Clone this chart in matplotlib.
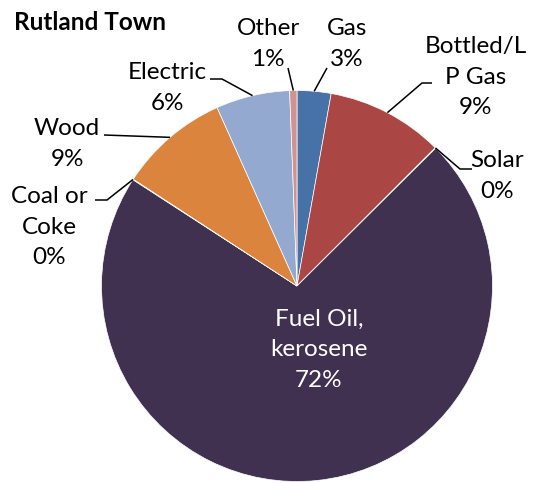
"""
Home heating fuel shares, Rutland Town — pie chart with leader-line labels.
"""

import numpy as np
import matplotlib.pyplot as plt

# ---------------------------------------------------------------------------
# Data
# ---------------------------------------------------------------------------
fuels = ["Gas", "Bottled/LP Gas", "Solar", "Fuel Oil, kerosene",
         "Coal or Coke", "Wood", "Electric", "Other"]
shares = [2.8, 9.7, 0.05, 71.6, 0.05, 9.1, 6.1, 0.6]
labels = ["Gas\n3%", "Bottled/L\nP Gas\n9%", "Solar\n0%",
          "Fuel Oil,\nkerosene\n72%", "Coal or\nCoke\n0%", "Wood\n9%",
          "Electric\n6%", "Other\n1%"]
colors = ["#4672A8", "#AA4643", "#89A54E", "#413151",
          "#3D96AE", "#DB843D", "#93A9CF", "#D19392"]

# ---------------------------------------------------------------------------
# Layout (pixel coordinates in the 540x483 canvas)
# ---------------------------------------------------------------------------
W, H = 540, 483
CX, CY, R = 297, 286, 195.5

# label centre, then leader path from label side (None = no leader)
label_pos = [(347, 44), (476, 77), (497, 176), (319, 350),
             (49, 227), (67, 144), (167, 88), (268, 44)]
leaders = [
    [(327, 68)],
    [(432, 83), (422, 83)],
    [(472, 169), (460, 169)],
    None,
    [(95, 200), (107, 200)],
    [(104, 135)],
    [(210, 79), (222, 79)],
    [(288, 68)],
]
text_colors = ["black"] * 8
text_colors[3] = "white"


def px(x, y):
    return (x - CX) / R, (CY - y) / R


plt.rcParams["font.family"] = ["Lato", "DejaVu Sans"]

fig = plt.figure(figsize=(W / 100, H / 100), dpi=100)
ax = fig.add_axes([0, 0, 1, 1])

wedges, _ = ax.pie(
    shares, colors=colors, startangle=90, counterclock=False, radius=1,
    wedgeprops=dict(edgecolor="white", linewidth=0.5),
)

for w, lab, (lx, ly), path, tc in zip(wedges, labels, label_pos, leaders, text_colors):
    ax.text(*px(lx, ly), lab, ha="center", va="center", fontsize=17.5,
            color=tc, linespacing=1.55)
    if path is None:
        continue
    mid = np.deg2rad((w.theta1 + w.theta2) / 2)
    pts = [px(*p) for p in path] + [(np.cos(mid), np.sin(mid))]
    xs, ys = zip(*pts)
    ax.plot(xs, ys, color="black", lw=1.1, solid_capstyle="butt")

ax.text(*px(14, 23), "Rutland Town", ha="left", va="center",
        fontsize=17.5, fontweight="bold")

ax.set_aspect("auto")
x0, y0 = px(0, H)
x1, y1 = px(W, 0)
ax.set_xlim(x0, x1)
ax.set_ylim(y0, y1)
ax.axis("off")

fig.savefig("out.png", dpi=100)
